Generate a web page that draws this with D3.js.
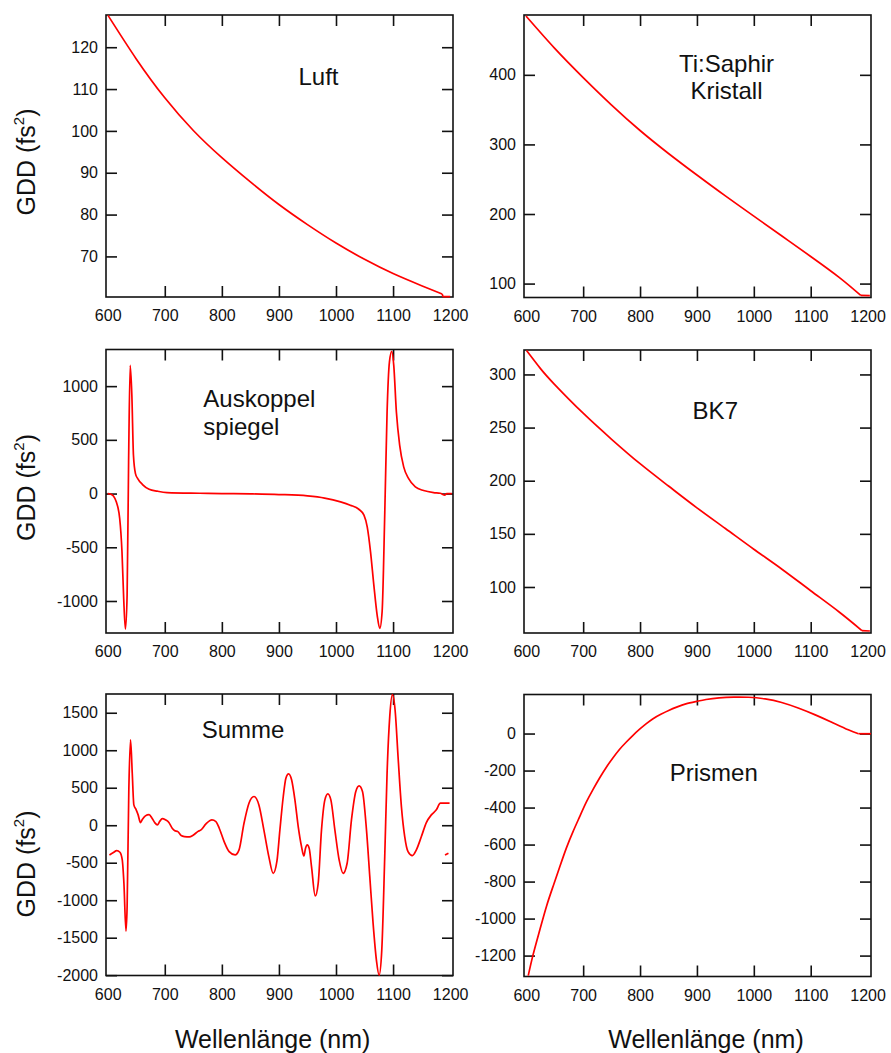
<!DOCTYPE html>
<html><head><meta charset="utf-8">
<script src="https://cdn.jsdelivr.net/npm/d3@7"></script>
<style>
body{margin:0;background:#fff}
svg{display:block}
text{font-family:"Liberation Sans",Arial,Helvetica,sans-serif;fill:#111}
</style>
</head><body>
<svg id="chart" width="891" height="1053"></svg>
<script>
// ---------- data (wavelength nm, GDD fs^2) ----------
const xTickValues = [600, 700, 800, 900, 1000, 1100, 1200];

const luftData = [[600.5,127.6],[650,117.2],[700,107.9],[750,100.1],[800,93.6],[850,87.8],[900,82.4],[950,77.6],[1000,73.2],[1050,69.3],[1100,65.9],[1150,63.0],[1186,61.0]];
const luftTail = [[1186,61.0],[1187.5,60.4],[1200,60.4]];
const luftTicks = [70, 80, 90, 100, 110, 120];

const saphirData = [[599.5,484.5],[650,438],[700,396],[750,356.5],[800,320],[850,287],[900,256],[950,226],[1000,197],[1050,168],[1100,139],[1150,109],[1188,83]];
const saphirTail = [[1188,83],[1204,82.6]];
const saphirTicks = [100, 200, 300, 400];

const spiegelData = [[600,0],[605,-5],[610,-22],[615,-77],[621,-232],[625,-542],[628,-976],[631,-1261],[634,-945],[636.6,294],[639.4,1193],[642.3,914],[645.1,356],[648.6,186],[652.6,139],[661,84],[672.6,40],[687,22],[704,9],[761,3],[800,0],[850,-3],[900,-9],[950,-22],[980,-42],[1008,-77],[1025,-108],[1040,-146],[1049,-201],[1054.7,-310],[1060.5,-542],[1066.3,-852],[1072.1,-1131],[1076.7,-1255],[1080.8,-1100],[1085.5,-170],[1089.5,759],[1093.6,1224],[1097.7,1323],[1101.2,1193],[1105.8,759],[1111.6,449],[1118.6,248],[1127.3,139],[1139,62],[1153.5,28],[1171,9],[1182.6,3],[1191,-15],[1194,0],[1203,0]];
const spiegelTicks = [-1000, -500, 0, 500, 1000];

const bk7Data = [[600.5,322.5],[625,305.5],[650,290.5],[700,263.5],[750,239],[800,216],[850,195],[900,174.5],[950,155],[1000,135.5],[1050,116.5],[1100,96.5],[1150,76.5],[1190,59]];
const bk7Tail = [[1190,59],[1204,58.6]];
const bk7Ticks = [100, 150, 200, 250, 300];

const summeData = [[603,-396],[610,-365],[615.7,-338],[621.4,-360],[625.5,-463],[628.4,-774],[632,-1411],[634,-1086],[637,472],[640,1140],[643,694],[645.8,271],[649.9,205],[653.3,138],[657.4,36],[660.9,80],[666,125],[672.5,142],[677.7,93],[682.3,36],[687,4],[691,49],[695.7,89],[701.4,71],[707.2,36],[713,-40],[717,-71],[722.9,-85],[728.7,-138],[734.5,-151],[743.2,-156],[749,-138],[757.7,-85],[763.5,-62],[772.2,18],[782.6,71],[789.6,49],[795.4,-40],[804,-218],[812.8,-352],[823.2,-396],[830.1,-329],[838.8,27],[847.5,294],[856.2,383],[864.9,271],[873.6,-62],[882.3,-418],[889.9,-641],[896.5,-480],[901.7,-62],[907.6,383],[912.2,628],[916.9,686],[922.2,606],[928,338],[933.8,-18],[939.6,-285],[943.7,-410],[946.6,-307],[949.6,-263],[953,-307],[957.1,-552],[963.6,-944],[968.8,-775],[974.6,-62],[980.5,338],[985.7,419],[991,338],[998,-62],[1005.5,-463],[1012.5,-641],[1019.5,-507],[1027.1,71],[1034.7,450],[1040.5,525],[1046.4,450],[1053.4,-62],[1059.2,-686],[1065,-1309],[1070.8,-1799],[1075.5,-1999],[1080.2,-1665],[1085.4,-418],[1089.5,695],[1094.2,1451],[1098.8,1741],[1103.5,1540],[1108.7,917],[1114.6,249],[1120.4,-151],[1126.2,-352],[1133.8,-405],[1140.8,-329],[1149.6,-151],[1158.3,36],[1167.1,138],[1175.8,205],[1182.9,294],[1187.5,294],[1199,294]];
const summeFragment = [[1191,-396],[1197,-373]];
const summeTicks = [-2000, -1500, -1000, -500, 0, 500, 1000, 1500];

const prismenData = [[603.5,-1308],[612,-1195],[624,-1059],[635.6,-933],[647.2,-825],[658.9,-720],[670.6,-618],[682.2,-530],[693.9,-449],[705.5,-371],[717.2,-303],[728.9,-240],[740.5,-183],[752.2,-132],[763.8,-86],[775.5,-47],[787.2,-11],[798.8,22],[810.5,52],[822.2,79],[836.5,104],[851.3,126],[865.5,144],[880.5,160],[900,174],[916,184],[939,193],[965,197],[991,196],[1020,187],[1049,168],[1078,138],[1108,101],[1137,61],[1166,20],[1184,-1]];
const prismenTail = [[1184,-1],[1206,-1]];
const prismenTicks = [-1200, -1000, -800, -600, -400, -200, 0];

const titles = {
  luft: ["Luft"], saphir: ["Ti:Saphir", "Kristall"], spiegel: ["Auskoppel", "spiegel"],
  bk7: ["BK7"], summe: ["Summe"], prismen: ["Prismen"]
};
const yLabel = "GDD (fs";
const xLabel = "Wellenlänge (nm)";

// ---------- layout ----------
const L = {x0: 106, x1: 453}, R = {x0: 524, x1: 871};
const smooth = d3.curveNatural, sharp = d3.curveMonotoneX, lin = d3.curveLinear;
const panels = [
  {col: L, y0: 15, y1: 297, xd: [597, 1205], yd: [60.3, 127.7], ticks: luftTicks,
   series: [[luftData, smooth], [luftTail, lin]],
   title: titles.luft, tx: 318.5, ty: 85, anchor: "middle", ylab: 162},
  {col: R, y0: 15, y1: 297.5, xd: [596, 1206], yd: [80, 486], ticks: saphirTicks,
   series: [[saphirData, smooth], [saphirTail, lin]],
   title: titles.saphir, tx: 726.5, ty: 71.7, anchor: "middle"},
  {col: L, y0: 349.5, y1: 633, xd: [597, 1205], yd: [-1298, 1341], ticks: spiegelTicks,
   series: [[spiegelData, sharp]],
   title: titles.spiegel, tx: 203.3, ty: 407.3, anchor: "start", ylab: 487.5},
  {col: R, y0: 350, y1: 633, xd: [596, 1206], yd: [56.7, 323], ticks: bk7Ticks,
   series: [[bk7Data, smooth], [bk7Tail, lin]],
   title: titles.bk7, tx: 715.3, ty: 419.3, anchor: "middle"},
  {col: L, y0: 694, y1: 975.5, xd: [597, 1205], yd: [-2004, 1750], ticks: summeTicks,
   series: [[summeData, sharp], [summeFragment, lin]],
   title: titles.summe, tx: 243, ty: 738.3, anchor: "middle", ylab: 864, xlab: 272.7},
  {col: R, y0: 694.5, y1: 976.5, xd: [596, 1206], yd: [-1313, 211], ticks: prismenTicks,
   series: [[prismenData, smooth], [prismenTail, lin]],
   title: titles.prismen, tx: 713.8, ty: 780.7, anchor: "middle", xlab: 706}
];

const svg = d3.select("#chart");
const TICK = 11;
const fmt = d => String(d);

panels.forEach(p => {
  const x = d3.scaleLinear().domain(p.xd).range([p.col.x0, p.col.x1]);
  const y = d3.scaleLinear().domain(p.yd).range([p.y1, p.y0]);
  const g = svg.append("g");

  const gb = g.append("g").attr("transform", `translate(0,${p.y1})`)
    .call(d3.axisBottom(x).tickValues(xTickValues).tickSize(-TICK).tickPadding(13).tickFormat(fmt));
  const gt = g.append("g").attr("transform", `translate(0,${p.y0})`)
    .call(d3.axisTop(x).tickValues(xTickValues).tickSize(-TICK).tickFormat(""));
  [gb, gt].forEach(a => a.selectAll(".tick").filter(d => d === 600 || d === 1200).select("line").remove());
  const gl = g.append("g").attr("transform", `translate(${p.col.x0},0)`)
    .call(d3.axisLeft(y).tickValues(p.ticks).tickSize(-TICK).tickPadding(8).tickFormat(fmt));
  const gr = g.append("g").attr("transform", `translate(${p.col.x1},0)`)
    .call(d3.axisRight(y).tickValues(p.ticks).tickSize(-TICK).tickFormat(""));

  [gb, gt, gl, gr].forEach(a => {
    a.select(".domain").remove();
    a.selectAll(".tick line").attr("stroke", "#111").attr("stroke-width", 1.6);
    a.selectAll(".tick text").attr("font-size", 16).attr("fill", "#111")
      .attr("font-family", "Liberation Sans, Arial, sans-serif");
  });

  g.append("rect").attr("x", p.col.x0).attr("y", p.y0)
    .attr("width", p.col.x1 - p.col.x0).attr("height", p.y1 - p.y0)
    .attr("fill", "none").attr("stroke", "#111").attr("stroke-width", 1.6);

  p.series.forEach(([s, curve]) => {
    const line = d3.line().x(d => x(d[0])).y(d => y(d[1])).curve(curve);
    g.append("path").datum(s).attr("d", line)
      .attr("fill", "none").attr("stroke", "#ff0000").attr("stroke-width", 1.7)
      .attr("stroke-linejoin", "round");
  });

  const t = g.append("text").attr("x", p.tx).attr("y", p.ty)
    .attr("text-anchor", p.anchor).attr("font-size", 24);
  p.title.forEach((s, i) => t.append("tspan").attr("x", p.tx).attr("dy", i === 0 ? 0 : 27.5).text(s));

  if (p.ylab !== undefined) {
    const yl = g.append("text").attr("transform", `translate(35,${p.ylab}) rotate(-90)`)
      .attr("text-anchor", "middle").attr("font-size", 25);
    yl.append("tspan").text(yLabel);
    yl.append("tspan").attr("font-size", 15).attr("dy", -11).text("2");
    yl.append("tspan").attr("dy", 11).text(")");
  }
  if (p.xlab !== undefined) {
    g.append("text").attr("x", p.xlab).attr("y", 1048).attr("text-anchor", "middle")
      .attr("font-size", 25).text(xLabel);
  }
});
</script>
</body></html>
